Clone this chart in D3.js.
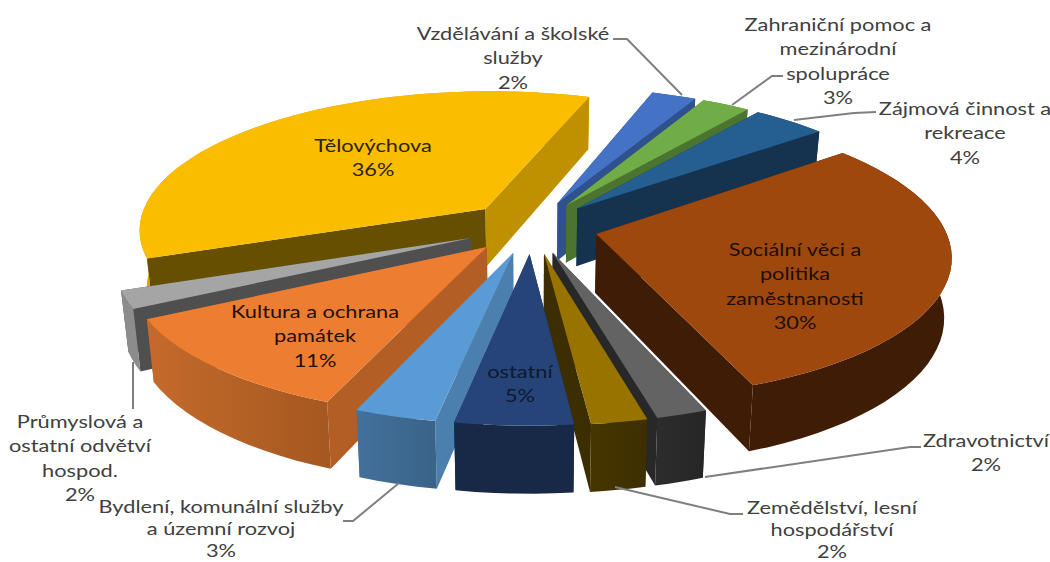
<!DOCTYPE html>
<html lang="en">
<head>
    <meta charset="UTF-8">
    <title>Exploded 3D pie</title>
    <script src="https://d3js.org/d3.v7.min.js"></script>
    <style>
        html, body { margin: 0; padding: 0; background: #fff; }
        text { font: 18px Lato, sans-serif; text-anchor: middle; dominant-baseline: central; }
        .leader { fill: none; stroke: #7f7f7f; stroke-width: 2; }
    </style>
</head>
<body>
    <svg width="1050" height="562"></svg>
    <script>
        // clockwise from the blue slice
        const categories = [
            ["Vzdělávání a školské", "služby"],
            ["Zahraniční pomoc a", "mezinárodní", "spolupráce"],
            ["Zájmová činnost a", "rekreace"],
            ["Sociální věci a", "politika", "zaměstnanosti"],
            ["Zdravotnictví"],
            ["Zemědělství, lesní", "hospodářství"],
            ["ostatní"],
            ["Bydlení, komunální služby", "a územní rozvoj"],
            ["Kultura a ochrana", "památek"],
            ["Průmyslová a", "ostatní odvětví", "hospod."],
            ["Tělovýchova"]
        ];
        // labels show them rounded
        const values = [2.4, 2.6, 4, 29.8, 2, 2.2, 4.6, 3.2, 11.2, 2, 36];

        const topColors   = ["#4472c4", "#70ad47", "#255e91", "#9e480e", "#636363", "#997300", "#264478", "#5b9bd5", "#ed7d31", "#a5a5a5", "#fbbd00"];
        const startColors = ["#2f528f", "#4a7430", "#15324f", "#3f1c05", "#282828", "#3d2e00", "#172947", "#4a7fae", "#b25e25", "#4f4f4f", "#665000"];
        const endColors   = ["#2f528f", "#4a7430", "#15324f", "#3f1c05", "#282828", "#3d2e00", "#172947", "#4a7fae", "#b25e25", "#4f4f4f", "#bf9000"];
        const outerFrom   = ["#2f528f", "#4a7430", "#15324f", "#3f1c05", "#2c2c2c", "#473600", "#172947", "#42719c", "#c56a2c", "#8c8c8c", "#d9a300"];
        const outerTo     = ["#2f528f", "#4a7430", "#15324f", "#3f1c05", "#262626", "#3d2e00", "#172947", "#3a6388", "#a55820", "#8c8c8c", "#d9a300"];

        // back to front
        const drawOrder = [10, 0, 1, 2, 3, 9, 8, 4, 5, 7, 6];

        // label layout: centre x, centre y of first line, line gap
        const labelPos = [[513, 33, 24.2], [838, 24, 24.2], [965, 108, 24.2], [795, 249, 24.2], [986, 440, 24.2], [832, 507, 22], [520, 371, 24.2], [221, 506, 22], [315, 311, 24.2], [80, 421, 24.2], [373, 145, 24.2]];
        const labelFill = ["#404040", "#404040", "#404040", "#1f0e03", "#404040", "#404040", "#0c1a30", "#404040", "#1f1006", "#404040", "#2c2200"];
        const leaders = [
            [[613, 39], [627, 39], [682, 95]],
            [[783, 76], [772, 76], [732, 105]],
            [[876, 112], [854, 113], [794, 120]],
            [[921, 447], [910, 447], [705, 477]],
            [[743, 514], [730, 514], [615, 487]],
            [[343, 521], [353, 521], [399, 483]],
            [[133, 409], [133, 362]]
        ];

        const svg = d3.select("svg");
        const defs = svg.append("defs");

        // ground plane to screen, mild perspective (near edge is bigger)
        const cx = 532, cy = 227, radiusX = 348, radiusY = 139, persp = 0.141, explode = 0.19;
        const steps = 40;

        function project(p) {
            const w = 1 - persp * p[1];
            return [cx + radiusX * p[0] / w, cy + radiusY * p[1] / w];
        }
        // extruded copy of a top point
        function drop(s) {
            return [cx + (s[0] - cx) * 0.982, s[1] + 48 + 0.047 * s[1]];
        }

        const pie = d3.pie().sort(null).value(d => d)
            .startAngle(19 * Math.PI / 180)
            .endAngle(379 * Math.PI / 180);
        const arcs = pie(values);
        const line = d3.line();

        const slices = arcs.map((a, i) => {
            const mid = (a.startAngle + a.endAngle) / 2;
            const off = d3.pointRadial(mid, explode);
            const at = (ang, r) => {
                const q = d3.pointRadial(ang, r);
                return project([q[0] + off[0], q[1] + off[1]]);
            };
            const n = Math.max(4, Math.ceil((a.endAngle - a.startAngle) / (2 * Math.PI) * steps * 3));
            const angle = d3.scaleLinear().domain([0, n]).range([a.startAngle, a.endAngle]);
            const rim = d3.range(n + 1).map(k => at(angle(k), 1));
            return {i, tip: at(mid, 0), rim};
        });

        const g = svg.append("g");
        drawOrder.forEach(i => {
            const s = slices[i];
            const first = s.rim[0], last = s.rim[s.rim.length - 1];

            const gradId = "outer" + i;
            const grad = defs.append("linearGradient").attr("id", gradId)
                .attr("gradientUnits", "userSpaceOnUse")
                .attr("x1", d3.min(s.rim, d => d[0])).attr("x2", d3.max(s.rim, d => d[0]))
                .attr("y1", 0).attr("y2", 0);
            grad.append("stop").attr("offset", 0).attr("stop-color", outerFrom[i]);
            grad.append("stop").attr("offset", 1).attr("stop-color", outerTo[i]);

            const slice = g.append("g");
            const addOuter = () => slice.append("path")
                .attr("d", line(s.rim.concat(s.rim.map(drop).reverse())) + "Z")
                .attr("fill", `url(#${gradId})`);
            const addWalls = () => {
                slice.append("path")
                    .attr("d", line([s.tip, first, drop(first), drop(s.tip)]) + "Z")
                    .attr("fill", startColors[i]);
                slice.append("path")
                    .attr("d", line([s.tip, last, drop(last), drop(s.tip)]) + "Z")
                    .attr("fill", endColors[i]);
            };
            // back slices: rim wall is behind the side walls, front slices the other way
            const rimMid = s.rim[Math.floor(s.rim.length / 2)];
            if (rimMid[1] < s.tip[1]) {
                addOuter();
                addWalls();
            } else {
                addWalls();
                addOuter();
            }
            slice.append("path")
                .attr("d", line([s.tip].concat(s.rim)) + "Z")
                .attr("fill", topColors[i]);
        });

        svg.append("g").selectAll("path").data(leaders).join("path")
            .attr("class", "leader")
            .attr("d", d => line(d));

        // reference text is stretched sideways
        const labels = svg.append("g").selectAll("text").data(categories).join("text")
            .attr("fill", (d, i) => labelFill[i])
            .attr("transform", (d, i) => `translate(${labelPos[i][0]},${labelPos[i][1]}) scale(1.21,1)`);
        labels.selectAll("tspan")
            .data((d, i) => d.concat(Math.round(values[i]) + "%").map(t => ({t, gap: labelPos[i][2]})))
            .join("tspan")
            .attr("x", 0)
            .attr("y", (d, k) => k * d.gap)
            .text(d => d.t);
    </script>
</body>
</html>
